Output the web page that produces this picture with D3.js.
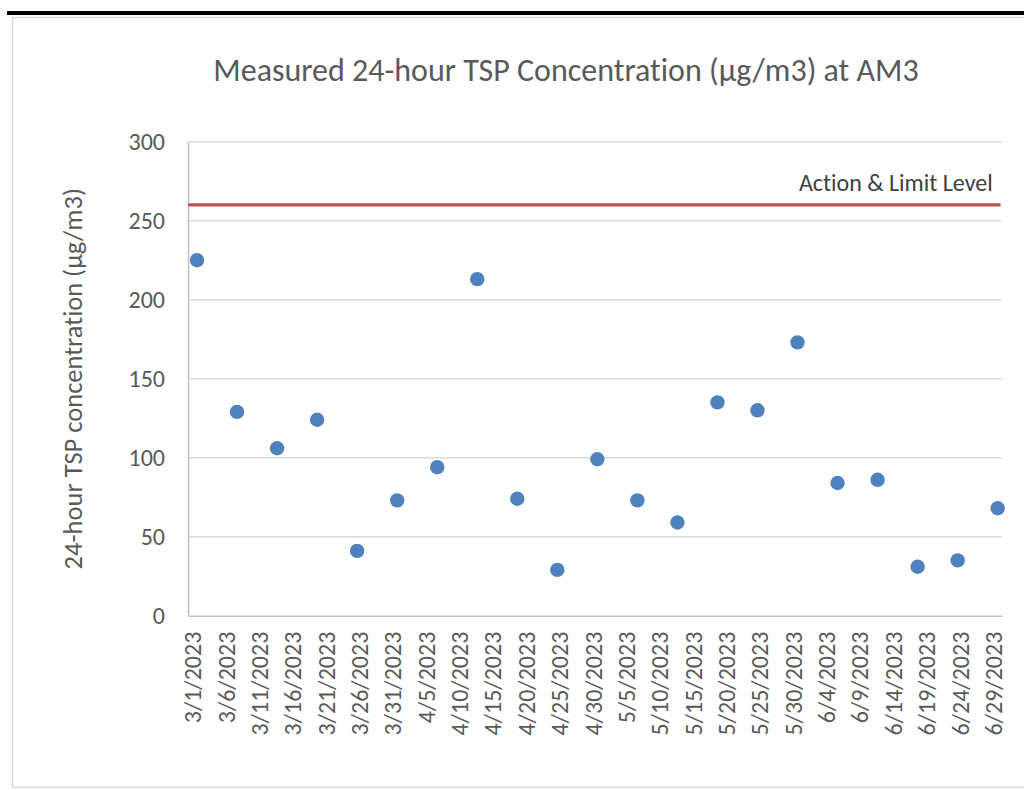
<!DOCTYPE html>
<html>
<head>
<meta charset="utf-8">
<script src="https://cdn.jsdelivr.net/npm/d3@7"></script>
<style>
body{margin:0;background:#fff;}
svg{display:block;font-family:Calibri,Carlito,"Open Sans",sans-serif;font-variant-ligatures:none;}
</style>
</head>
<body>
<svg id="chart" width="1024" height="790"></svg>
<script>
// sample dates (every 6 days) and measured 24-hour TSP values
const sampleDates = ["3/1/2023","3/7/2023","3/13/2023","3/19/2023","3/25/2023","3/31/2023","4/6/2023",
  "4/12/2023","4/18/2023","4/24/2023","4/30/2023","5/6/2023","5/12/2023","5/18/2023","5/24/2023",
  "5/30/2023","6/5/2023","6/11/2023","6/17/2023","6/23/2023","6/29/2023"];
const tspValues = [225,129,106,124,41,73,94,213,74,29,99,73,59,135,130,173,84,86,31,35,68];
const xTickLabels = ["3/1/2023","3/6/2023","3/11/2023","3/16/2023","3/21/2023","3/26/2023","3/31/2023",
  "4/5/2023","4/10/2023","4/15/2023","4/20/2023","4/25/2023","4/30/2023","5/5/2023","5/10/2023",
  "5/15/2023","5/20/2023","5/25/2023","5/30/2023","6/4/2023","6/9/2023","6/14/2023","6/19/2023",
  "6/24/2023","6/29/2023"];
const yTicks = [0,50,100,150,200,250,300];
const limitLevel = 260;
const limitLabel = "Action & Limit Level";
const chartTitle = "Measured 24-hour TSP Concentration (µg/m3) at AM3";
const yTitle = "24-hour TSP concentration (µg/m3)";

const parse = d3.timeParse("%-m/%-d/%Y");
const day = 864e5;
const plot = {left: 188, right: 1001.7, top: 141.7, bottom: 615.7};

const svg = d3.select("#chart");

// frame like the pasted excel chart
svg.append("rect").attr("x", 7).attr("y", 11).attr("width", 1017).attr("height", 4).attr("fill", "#000");
svg.append("path").attr("d", "M12.5,787.5V17.5H1024").attr("fill", "none").attr("stroke", "#d9d9d9").attr("stroke-width", 1.5);
svg.append("path").attr("d", "M12.5,787.5H1024").attr("fill", "none").attr("stroke", "#d9d9d9").attr("stroke-width", 1.5);

const dates = sampleDates.map(parse);
const x = d3.scaleTime()
  .domain([new Date(+dates[0] - 1.35*day), new Date(+dates[dates.length-1] + 0.6*day)])
  .range([plot.left, plot.right]);
const y = d3.scaleLinear().domain([0, 300]).range([plot.bottom, plot.top]);

// gridlines
svg.append("g").selectAll("line").data(yTicks.filter(d => d > 0)).join("line")
  .attr("x1", plot.left).attr("x2", plot.right)
  .attr("y1", d => y(d)).attr("y2", d => y(d))
  .attr("stroke", "#d9d9d9").attr("stroke-width", 1.5);

// y axis
const yAxis = svg.append("g").attr("transform", `translate(${plot.left},0)`)
  .call(d3.axisLeft(y).tickValues(yTicks).tickSize(0).tickPadding(23))
  .attr("font-family", null).attr("font-size", null);
yAxis.select(".domain").attr("stroke", "#bfbfbf").attr("stroke-width", 1.5);
yAxis.selectAll("text").attr("fill", "#595959").style("font-size", "24px").attr("dy", "0.34em");

// x axis
const xAxis = svg.append("g").attr("transform", `translate(0,${plot.bottom})`)
  .call(d3.axisBottom(x).tickValues(xTickLabels.map(parse)).tickSize(0).tickFormat(d3.timeFormat("%-m/%-d/%Y")))
  .attr("font-family", null).attr("font-size", null);
xAxis.select(".domain").attr("stroke", "#bfbfbf").attr("stroke-width", 1.5);
xAxis.selectAll("text")
  .attr("fill", "#595959").style("font-size", "24px")
  .attr("transform", "rotate(-90)")
  .attr("x", -16).attr("y", -4.5).attr("dy", "0.34em")
  .style("text-anchor", "end");

// action & limit level
svg.append("line")
  .attr("x1", plot.left + 1.5).attr("x2", plot.right - 2.5)
  .attr("y1", y(limitLevel)).attr("y2", y(limitLevel))
  .attr("stroke", "#c0504d").attr("stroke-width", 3.2).attr("stroke-linecap", "round");
svg.append("text")
  .attr("x", 992.7).attr("y", 190.5)
  .attr("text-anchor", "end").attr("fill", "#404040").style("font-size", "24px")
  .text(limitLabel);

// measured points
svg.append("g").selectAll("circle").data(tspValues).join("circle")
  .attr("cx", (d, i) => x(dates[i]))
  .attr("cy", d => y(d))
  .attr("r", 7.2)
  .attr("fill", "#4f81bd");

// titles
svg.append("text")
  .attr("x", 566).attr("y", 81)
  .attr("text-anchor", "middle").attr("fill", "#595959").style("font-size", "32px")
  .text(chartTitle);
svg.append("text")
  .attr("transform", `translate(81.5,${(plot.top + plot.bottom)/2}) rotate(-90)`)
  .attr("text-anchor", "middle").attr("fill", "#595959").style("font-size", "26.5px")
  .text(yTitle);
</script>
</body>
</html>
